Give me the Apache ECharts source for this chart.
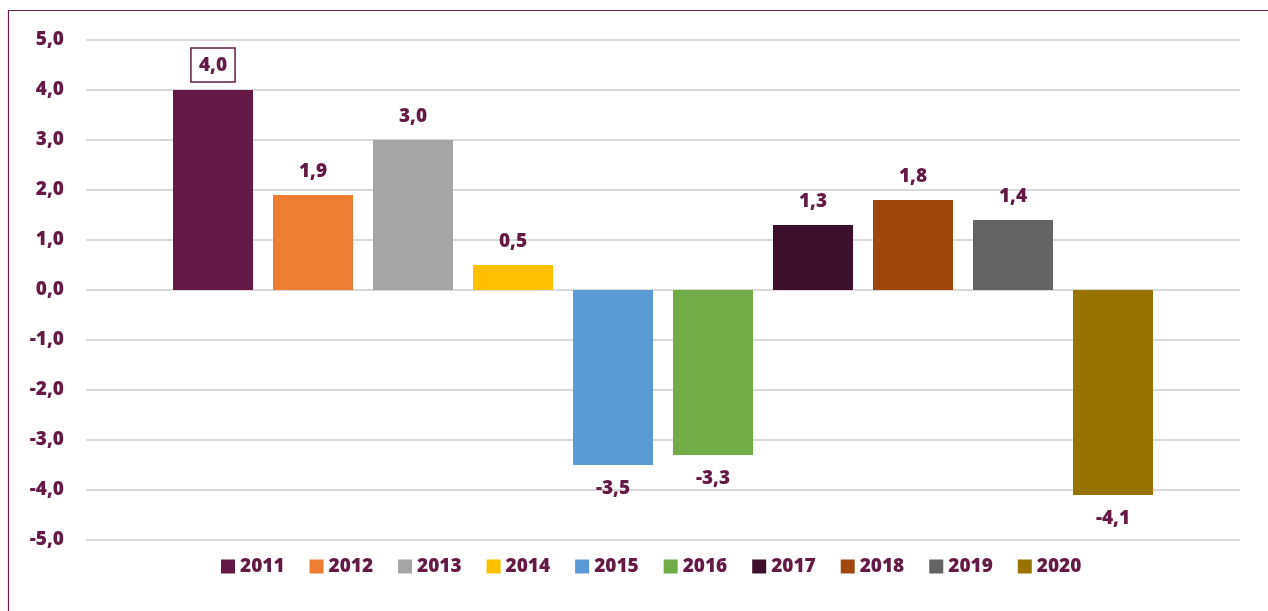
<!DOCTYPE html>
<html>
<head>
<meta charset="utf-8">
<style>
  html, body { margin: 0; padding: 0; background: #fff; }
  #chart { width: 1268px; height: 611px; }
</style>
<script src="https://cdn.jsdelivr.net/npm/echarts@6/dist/echarts.min.js"></script>
</head>
<body>
<div id="chart"></div>
<script>
  var years = ['2011', '2012', '2013', '2014', '2015', '2016', '2017', '2018', '2019', '2020'];
  var values = [4.0, 1.9, 3.0, 0.5, -3.5, -3.3, 1.3, 1.8, 1.4, -4.1];
  var colors = ['#641a45', '#ed7d31', '#a5a5a5', '#ffc000', '#5b9bd5',
                '#70ad47', '#3d0f2a', '#9e480e', '#636363', '#997300'];

  var textColor = '#641a45';
  var fontFam = '"Open Sans", "Liberation Sans", sans-serif';

  function fmt(v) {
    return v.toFixed(1).replace('.', ',');
  }

  var myChart = echarts.init(document.getElementById('chart'));

  var series = [];
  for (var i = 0; i < years.length; i++) {
    var v = values[i];
    var lbl = {
      show: true,
      position: v >= 0 ? 'top' : 'bottom',
      distance: 14,
      color: textColor,
      fontSize: 19,
      fontWeight: 800,
      fontFamily: fontFam,
      formatter: function(p) { return fmt(p.value); }
    };
    if (i === 0) {
      // the 2011 label is boxed in the original
      lbl.borderColor = textColor;
      lbl.borderWidth = 1.5;
      lbl.padding = [8, 8, 7, 8];
      lbl.distance = 8;
    }
    series.push({
      name: years[i],
      type: 'bar',
      barWidth: 80,
      barGap: '25%',
      itemStyle: { color: colors[i] },
      label: lbl,
      data: [v]
    });
  }

  var option = {
    animation: false,
    graphic: [{
      type: 'rect',
      shape: { x: 8.5, y: 10.5, width: 1400, height: 800 },
      style: { fill: null, stroke: '#6b1f4c', lineWidth: 1.2 },
      silent: true
    }],
    grid: {
      left: 86,
      right: 28,
      top: 40,
      bottom: 71
    },
    legend: {
      data: years,
      left: 216,
      top: 552,
      itemWidth: 14,
      itemHeight: 14,
      itemGap: 25,
      icon: 'rect',
      textStyle: {
        color: textColor,
        fontSize: 19,
        fontWeight: 800,
        fontFamily: fontFam
      }
    },
    xAxis: {
      type: 'category',
      data: [''],
      axisLine: { show: false },
      axisTick: { show: false },
      axisLabel: { show: false }
    },
    yAxis: {
      type: 'value',
      min: -5,
      max: 5,
      interval: 1,
      axisLine: { show: false },
      axisTick: { show: false },
      splitLine: { lineStyle: { color: '#d9d9d9', width: 2 } },
      axisLabel: {
        margin: 22,
        color: textColor,
        fontSize: 19,
        fontWeight: 800,
        fontFamily: fontFam,
        formatter: function(v) { return fmt(v); }
      }
    },
    series: series
  };

  myChart.setOption(option);
</script>
</body>
</html>
